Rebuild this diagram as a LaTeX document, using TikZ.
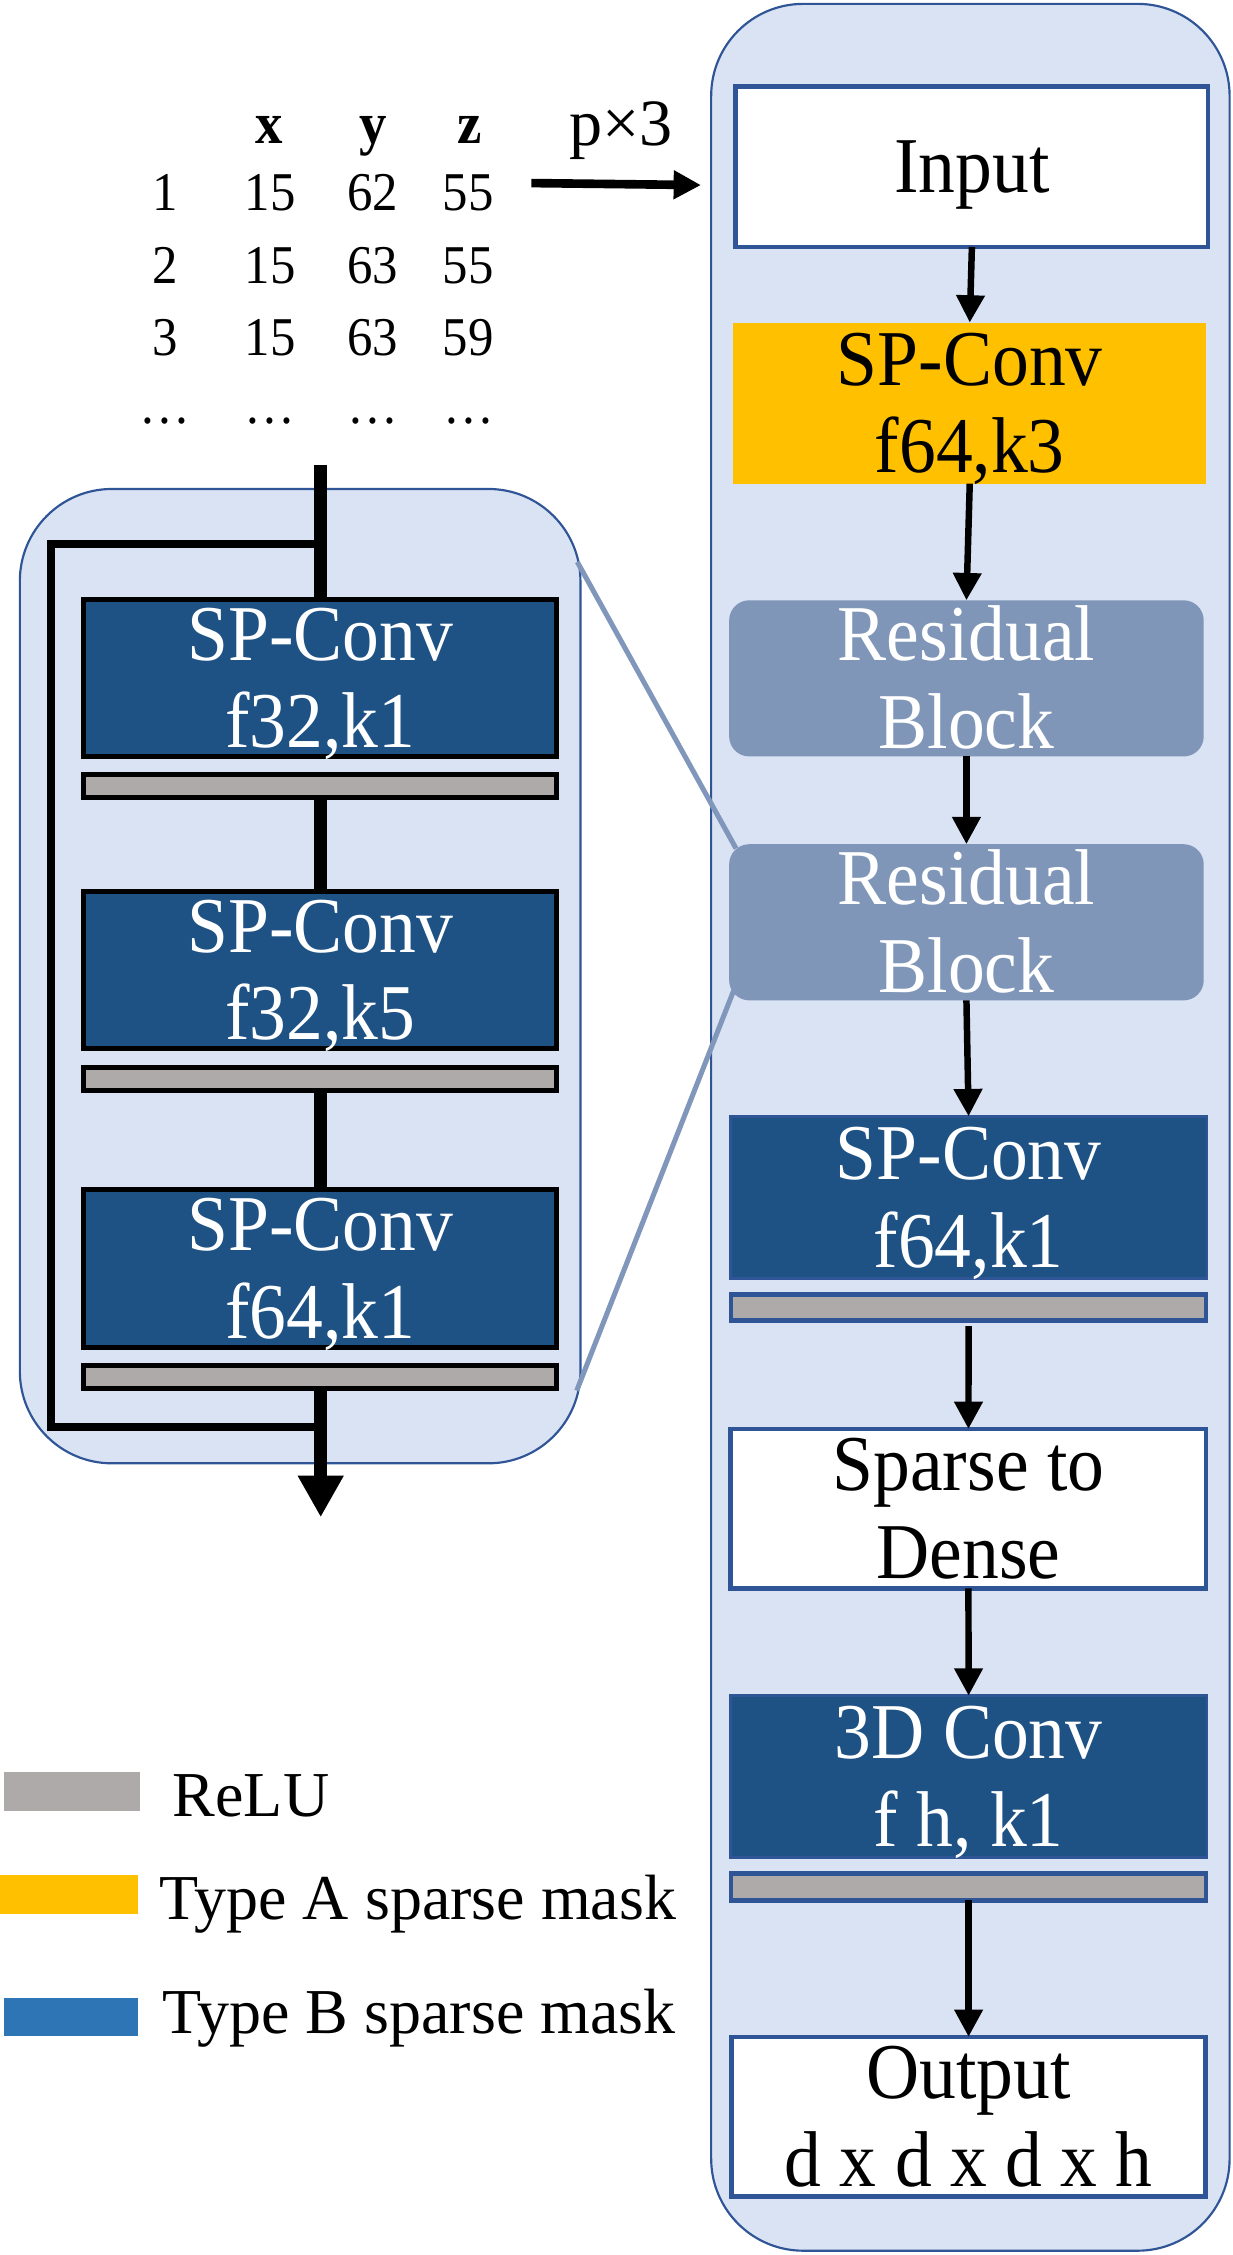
\documentclass[tikz,border=0pt]{standalone}
\usepackage{fontspec}
\setmainfont{Liberation Serif}
\newfontfamily\condf{Liberation Serif}[FakeStretch=0.93]
\usetikzlibrary{arrows.meta,calc}

\definecolor{panelfill}{HTML}{DAE3F3}
\definecolor{panelline}{HTML}{2F5597}
\definecolor{darkblue}{HTML}{1E5184}
\definecolor{orangeA}{HTML}{FFC000}
\definecolor{resfill}{HTML}{7F96B8}
\definecolor{relugray}{HTML}{AEAAAA}
\definecolor{legblue}{HTML}{2E75B6}
\definecolor{zoomline}{HTML}{8096BA}

\newcommand\twoln[2]{\begin{tabular}[b]{@{}c@{}}#1\\#2\end{tabular}}

\begin{document}
\begin{tikzpicture}[x=1pt,y=-1pt,
  boxtxt/.style={font=\condf\fontsize{55}{61}\selectfont, inner sep=0pt, outer sep=0pt},
  twol/.style={text height=97pt, text depth=0pt},
  onel/.style={text height=36pt, text depth=0pt},
  panel/.style={draw=panelline, fill=panelfill, line width=1.5pt, rounded corners=64pt, inner sep=0pt},
  whitebox/.style={boxtxt, twol, draw=panelline, line width=3.2pt, fill=white, text=black},
  orangebox/.style={boxtxt, twol, fill=orangeA, text=black},
  resbox/.style={boxtxt, twol, fill=resfill, text=white, rounded corners=14pt},
  rblue/.style={boxtxt, twol, fill=darkblue, draw=panelline, line width=2pt, text=white},
  rrelu/.style={inner sep=0pt, outer sep=0pt, fill=relugray, draw=panelline, line width=3.2pt},
  lblue/.style={boxtxt, twol, fill=darkblue, draw=black, line width=3.5pt, text=white, minimum width=329pt, minimum height=109.5pt},
  lrelu/.style={inner sep=0pt, outer sep=0pt, fill=relugray, draw=black, line width=3.5pt, minimum width=329pt, minimum height=16pt},
  rarr/.style={line width=4.5pt, -{Triangle[width=19pt,length=19pt]}},
  mainln/.style={line width=9pt},
  skipln/.style={line width=5.5pt},
  zoomln/.style={draw=zoomline, line width=3.5pt},
  tabtxt/.style={font=\condf\fontsize{38}{40}\selectfont, anchor=base, inner sep=0pt},
  tabhead/.style={font=\condf\bfseries\fontsize{41}{44}\selectfont, anchor=base, inner sep=0pt},
  legtxt/.style={font=\fontsize{44.5}{48}\selectfont, anchor=base west, inner sep=0pt}
]
\useasboundingbox (0,0) rectangle (857,1568);

% panels
\node[panel, minimum width=360.5pt, minimum height=1562.3pt] (rpanel) at (674.75,783.85) {};
\node[panel, minimum width=389.8pt, minimum height=677.5pt] (lpanel) at (208.7,678.75) {};

% right column
\node[whitebox, onel, minimum width=328.4pt, minimum height=111.5pt] (in) at (675.8,116) {Input};
\node[orangebox, minimum width=328.6pt, minimum height=112pt] (spA) at (674.3,280.3) {\twoln{SP-Conv}{f64,k3}};
\node[resbox, minimum width=330pt, minimum height=108.6pt] (res1) at (672,471.7) {\twoln{Residual}{Block}};
\node[resbox, minimum width=330pt, minimum height=108.6pt] (res2) at (672,641.3) {\twoln{Residual}{Block}};
\node[rblue, minimum width=331.5pt, minimum height=113pt] (spB) at (673.5,832.7) {\twoln{SP-Conv}{f64,k1}};
\node[rrelu, minimum width=330.3pt, minimum height=17.8pt] (relu1) at (673.5,909.2) {};
\node[whitebox, minimum width=330.6pt, minimum height=110.8pt] (s2d) at (673.4,1049) {\twoln{Sparse to}{Dense}};
\node[rblue, minimum width=331.5pt, minimum height=112.7pt] (c3d) at (673.5,1235.4) {\twoln{3D Conv}{f h, k1}};
\node[rrelu, minimum width=330.3pt, minimum height=18.6pt] (relu2) at (673.5,1312) {};
\node[whitebox, minimum width=329.8pt, minimum height=110.8pt] (out) at (673.5,1471.7) {\twoln{Output}{d x d x d x h}};

\draw[rarr] (in.south) -- (spA.north);
\draw[rarr] (spA.south) -- (res1.north);
\draw[rarr] (res1.south) -- (res2.north);
\draw[rarr] (res2.south) -- (spB.north);
\draw[rarr, shorten <=4pt] (relu1.south) -- (s2d.north);
\draw[rarr] (s2d.south) -- (c3d.north);
\draw[rarr] (relu2.south) -- (out.north);

% left residual block detail
\coordinate (ltop) at (223,323);
\coordinate (lbot) at (223,1055);
\coordinate (sk1) at (223,378);
\coordinate (sk2) at (218,992);
\draw[skipln] (sk1) -- ++(-187.5,0) |- (sk2);
\draw[mainln] (ltop) -- (223,415);
\draw[mainln] (223,556) -- (223,618);
\draw[mainln] (223,760) -- (223,826);
\draw[mainln, -{Triangle[width=30pt,length=29pt]}] (223,967) -- (lbot);

\node[lblue] (l1) at (222.7,471.5) {\twoln{SP-Conv}{f32,k1}};
\node[lrelu] (lr1) at (222.7,546.25) {};
\node[lblue] (l2) at (222.7,674.5) {\twoln{SP-Conv}{f32,k5}};
\node[lrelu] (lr2) at (222.7,750) {};
\node[lblue] (l3) at (222.7,882) {\twoln{SP-Conv}{f64,k1}};
\node[lrelu] (lr3) at (222.7,957.25) {};

% zoom lines
\coordinate (za) at (401.4,390.7);
\coordinate (zb) at (401,967);
\draw[zoomln] (za) -- ($(res2.north west)+(4.8,3)$);
\draw[zoomln] (zb) -- ($(res2.south west)+(4.8,-11)$);

% input table
\node[tabhead] (hx) at (187,100) {x};
\node[tabhead] (hy) at (259.5,100) {y};
\node[tabhead] (hz) at (326.5,100) {z};
\node[tabtxt] (r1a) at (115,146.6) {1};
\node[tabtxt] (r1b) at (188,146.6) {15};
\node[tabtxt] (r1c) at (259,146.6) {62};
\node[tabtxt] (r1d) at (325.5,146.6) {55};
\node[tabtxt] (r2a) at (115,197.2) {2};
\node[tabtxt] (r2b) at (188,197.2) {15};
\node[tabtxt] (r2c) at (259,197.2) {63};
\node[tabtxt] (r2d) at (325.5,197.2) {55};
\node[tabtxt] (r3a) at (115,247.3) {3};
\node[tabtxt] (r3b) at (188,247.3) {15};
\node[tabtxt] (r3c) at (259,247.3) {63};
\node[tabtxt] (r3d) at (325.5,247.3) {59};
\node[tabtxt] (r4a) at (115,294.5) {…};
\node[tabtxt] (r4b) at (188,294.5) {…};
\node[tabtxt] (r4c) at (259.5,294.5) {…};
\node[tabtxt] (r4d) at (326,294.5) {…};
\node[font=\fontsize{46}{50}\selectfont, anchor=base, inner sep=0pt] (px3) at (432,101.5) {p×3};
\coordinate (tabarr) at (369.5,127.3);
\coordinate (tabend) at (487.4,128.7);
\draw[line width=6pt, -{Triangle[width=19pt,length=19pt]}] (tabarr) -- (tabend);

% legend
\node[fill=relugray, minimum width=94pt, minimum height=27pt, inner sep=0pt] (lg1) at (50,1245.5) {};
\node[fill=orangeA, minimum width=96pt, minimum height=27pt, inner sep=0pt] (lg2) at (48,1317.5) {};
\node[fill=legblue, minimum width=93pt, minimum height=27pt, inner sep=0pt] (lg3) at (49.5,1402.5) {};
\node[legtxt] (lt1) at (120,1263) {ReLU};
\node[legtxt] (lt2) at (111,1335) {Type A sparse mask};
\node[legtxt] (lt3) at (113,1414) {Type B sparse mask};
\end{tikzpicture}
\end{document}
